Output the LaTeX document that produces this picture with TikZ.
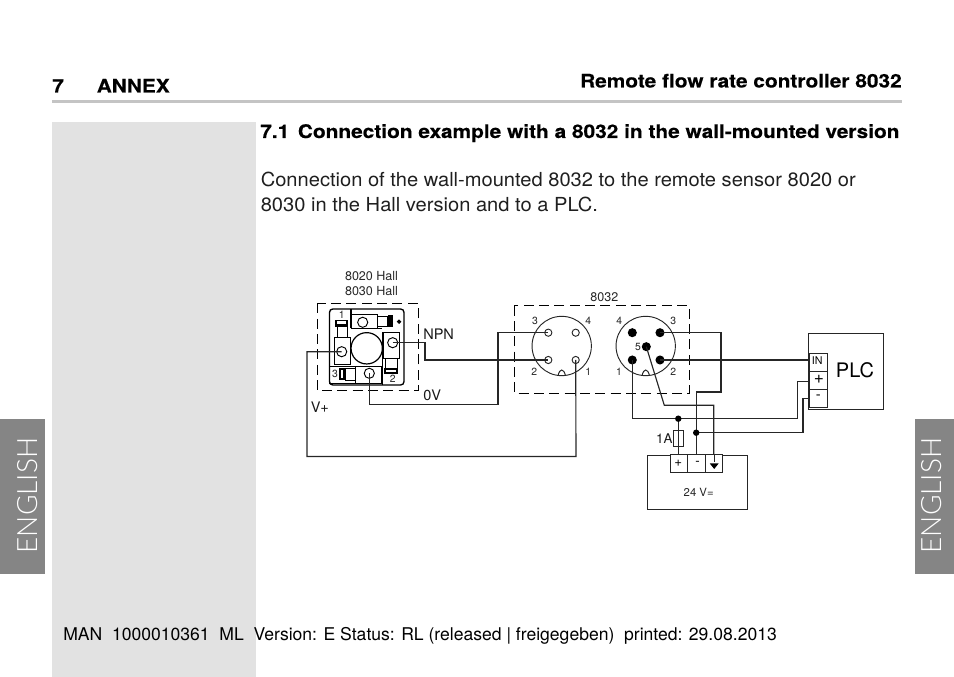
\documentclass[tikz,border=0pt]{standalone}
\usepackage{fontspec}
\setmainfont{TeX Gyre Heros}
\newfontfamily\headfont[FakeStretch=1.117,FakeBold=0.25]{TeX Gyre Heros Bold}
\newfontfamily\bodyfont[FakeStretch=1.04]{TeX Gyre Heros}
\newfontfamily\thinfont[UprightFont=* Light]{Lato}
\tikzset{
  wire/.style={line width=0.85pt,draw=black!85,line join=miter},
  thinbox/.style={line width=0.75pt,draw=black!85},
  dashbox/.style={line width=0.75pt,draw=black,dash pattern=on 7.5pt off 4pt},
  openpin/.style={circle,draw=black!85,line width=0.7pt,minimum size=5.4pt,inner sep=0pt},
  fullpin/.style={circle,fill=black,minimum size=6.8pt,inner sep=0pt},
  sensorpin/.style={circle,draw=black,line width=0.7pt,minimum size=7.6pt,inner sep=0pt},
  junction/.style={circle,fill=black,minimum size=4.8pt,inner sep=0pt},
  pinlabel/.style={inner sep=0pt,font=\fontsize{7.8pt}{8pt}\selectfont,text=black!85},
  diaglabel/.style={inner sep=0pt,font=\fontsize{10.9pt}{12pt}\selectfont,text=black!90},
  smalllabel/.style={inner sep=0pt,font=\fontsize{9.4pt}{10pt}\selectfont,text=black!85},
  bodytext/.style={inner sep=0pt,anchor=base west,text=black!88,font=\bodyfont\fontsize{14.5pt}{16pt}\selectfont},
  headtext/.style={inner sep=0pt,anchor=base west,font=\headfont\fontsize{14pt}{16pt}\selectfont},
  tabbox/.style={fill=tabgray,minimum width=33.75pt,minimum height=116.25pt,inner sep=0pt},
  tabtext/.style={rotate=90,inner sep=0pt,text=white,font=\thinfont\fontsize{21pt}{23pt}\selectfont},
  termbox/.style={thinbox,fill=white,inner sep=0pt}
}
\definecolor{tabgray}{HTML}{858585}
\definecolor{panelgray}{HTML}{E2E2E2}
\definecolor{rulegray}{HTML}{C4C4C4}
\begin{document}
\begin{tikzpicture}[x=0.75pt,y=-0.75pt]
\useasboundingbox (0,0) rectangle (954,677);
% page furniture
\fill[panelgray] (52,122) rectangle (256,677);
\fill[rulegray] (52,100) rectangle (902,103.5);
\node[tabbox] (tabL) at (22.5,496.5) {};
\node[tabbox,minimum width=29.25pt] (tabR) at (934.5,496.5) {};
\node[tabtext] (engL) at (28,495.5) {ENGLISH};
\node[tabtext] (engR) at (932,495.5) {ENGLISH};
\node[headtext] (chapno) at (52,92.5) {7};
\node[headtext] (chap) at (96.5,92.5) {ANNEX};
\node[headtext,anchor=base east] (runhead) at (902,87.5) {Remote flow rate controller 8032};
\node[headtext] (sec) at (260,138) {7.1\hspace{6.5pt}Connection example with a 8032 in the wall-mounted version};
\node[bodytext] (body1) at (260.5,187) {Connection of the wall-mounted 8032 to the remote sensor 8020 or};
\node[bodytext] (body2) at (260.5,212) {8030 in the Hall version and to a PLC.};
\node[inner sep=0pt,anchor=base west,font=\fontsize{13.17pt}{15pt}\selectfont] (foot) at (63,640) {MAN\ \ 1000010361\ \ ML\ \ Version: E Status: RL (released | freigegeben)\ \ printed: 29.08.2013};
% sensor outlines
\node[smalllabel] (h1) at (371.5,275.7) {8020 Hall};
\node[smalllabel] (h2) at (371.5,290.7) {8030 Hall};
\draw[dashbox] (317.5,303.5) rectangle (418,391);
\draw[line width=1pt,rounded corners=2.5pt] (329.5,309) rectangle (404,385);
% sensor internals (origin 325,305, third-pixel units)
\begin{scope}[shift={(325,305)},x=0.25pt,y=-0.25pt,line width=0.7pt]
\fill (74,12) rectangle (81,70);
\draw (77,70) -- (172,70);
\draw (80,28) rectangle (158,70);
\draw (158,33) rectangle (188,65);
\fill (188,30) rectangle (205,65);
\fill (222,50) +(-7,0) -- +(0,-7) -- +(7,0) -- +(0,7) -- cycle;
\draw (28,98) rectangle (75,178);
\draw (36,65) rectangle (68,98);
\fill (30,45) rectangle (70,65);
\fill[white] (36,48) rectangle (64,56);
\draw (176,82) rectangle (222,160);
\draw (182,160) rectangle (216,190);
\fill (178,190) rectangle (220,208);
\fill[white] (184,194) rectangle (212,200);
\draw (12,183) -- (172,183);
\draw (172,82) -- (172,240);
\draw (90,183) rectangle (170,235);
\draw (60,190) rectangle (90,225);
\fill (42,190) rectangle (60,225);
\fill[white] (47,195) rectangle (53,220);
\draw (12,235) -- (90,235);
\end{scope}
\node[circle,draw=black,line width=0.9pt,minimum size=23.5pt,inner sep=0pt] (hub) at (366.7,348.3) {};
\node[sensorpin] (sV) at (341.7,351.7) {};
\node[sensorpin] (sN) at (392.7,342.7) {};
\node[sensorpin] (s0) at (369.3,373.3) {};
\node[sensorpin] (sT) at (362.7,322.3) {};
\node[pinlabel] (sl1) at (341.7,314.5) {1};
\node[pinlabel] (sl2) at (392.7,379) {2};
\node[pinlabel] (sl3) at (335,374) {3};
\node[diaglabel,anchor=west] (npn) at (423,334.5) {NPN};
\node[diaglabel,anchor=west] (zerov) at (423,395) {0V};
\node[diaglabel,anchor=west] (vplus) at (310.5,407.5) {V+};
% 8032
\node[smalllabel] (t8032) at (604.3,297) {8032};
\draw[dashbox] (514.3,305.7) rectangle (689.3,393.3);
\node[circle,draw=black!85,line width=0.7pt,minimum size=44.5pt,inner sep=0pt] (conL) at (561.7,346) {};
\node[circle,draw=black!85,line width=0.7pt,minimum size=44.5pt,inner sep=0pt] (conR) at (645.7,346) {};
\draw[thinbox] (558,375.7) .. controls (559,372) and (560,370) .. (561.7,370) .. controls (563.5,370) and (564.5,372) .. (565.5,375.7);
\draw[thinbox] (642,375.7) .. controls (643,372) and (644,370) .. (645.7,370) .. controls (647.5,370) and (648.5,372) .. (649.5,375.7);
\node[openpin] (l3) at (548.3,332.7) {};
\node[openpin] (l4) at (575.7,332.7) {};
\node[openpin] (l2) at (548.3,360) {};
\node[openpin] (l1) at (575.7,360) {};
\node[fullpin] (r4) at (632.3,332.7) {};
\node[fullpin] (r3) at (660,332.7) {};
\node[fullpin] (r5) at (646.3,346.7) {};
\node[fullpin] (r1) at (632.3,360) {};
\node[fullpin] (r2) at (660,360) {};
\node[pinlabel] at (535,320.5) (a3) {3};
\node[pinlabel] at (588.3,320.5) (a4) {4};
\node[pinlabel] at (534.3,372) (a2) {2};
\node[pinlabel] at (588.3,372) (a1) {1};
\node[pinlabel] at (619.3,320.5) (b4) {4};
\node[pinlabel] at (673.3,320.5) (b3) {3};
\node[pinlabel] at (638,346.5) (b5) {5};
\node[pinlabel] at (619,372) (b1) {1};
\node[pinlabel] at (673.3,372) (b2) {2};
% PLC
\node[thinbox,draw,inner sep=0pt,minimum width=55.9pt,minimum height=57pt] (plc) at (846.2,371.3) {};
\node[termbox,draw,minimum width=13.5pt,minimum height=13.5pt] (tIN) at (818.3,362.3) {};
\node[termbox,draw,minimum width=13.5pt,minimum height=13.5pt] (tP) at (818.3,380.3) {};
\node[termbox,draw,minimum width=13.5pt,minimum height=13.5pt] (tM) at (818.3,398.3) {};
\node[inner sep=0pt,font=\fontsize{8pt}{8pt}\selectfont] at (817.3,361) (tINt) {IN};
\node[inner sep=0pt,font=\fontsize{13pt}{13pt}\selectfont] at (819,379) (tPt) {+};
\node[inner sep=0pt,font=\fontsize{11pt}{11pt}\selectfont] at (818.3,397) (tMt) {-};
\node[inner sep=0pt,font=\fontsize{15pt}{16pt}\selectfont] at (855,370) (plct) {PLC};
% power supply
\node[thinbox,draw,inner sep=0pt,minimum width=74.8pt,minimum height=40.7pt] (psu) at (697.85,482.15) {};
\node[termbox,draw,minimum width=13.25pt,minimum height=12.98pt] (pP) at (678.85,463.65) {};
\node[termbox,draw,minimum width=13.25pt,minimum height=12.98pt] (pM) at (696.5,463.65) {};
\node[termbox,draw,minimum width=13.25pt,minimum height=12.98pt] (pG) at (714.15,463.65) {};
\node[inner sep=0pt,font=\fontsize{10pt}{10pt}\selectfont] at (678.3,463) (pPt) {+};
\node[inner sep=0pt,font=\fontsize{10pt}{10pt}\selectfont] at (697.7,463) (pMt) {-};
\node[inner sep=0pt,font=\fontsize{8.5pt}{9pt}\selectfont,text=black!85] at (698.7,492.3) (v24) {24 V=};
\node[thinbox,draw,fill=white,inner sep=0pt,minimum width=6.8pt,minimum height=11.8pt] (fuse) at (678.5,438.8) {};
\node[diaglabel,font=\fontsize{10pt}{11pt}\selectfont] at (664.3,438.5) (fl) {1A};
% junctions
\coordinate (jA) at (678.3,418.7);
\coordinate (jB) at (696.2,432.7);
% wires
\draw[wire] (sV.center) -- (307,351.7) -- (307,456.5) -- (576,456.5) -- (l1.center);
\draw[wire] (sN.center) -- (425,342.7) -- (425,360) -- (l2.center);
\draw[wire] (s0.center) -- (369.3,404.3) -- (498,404.3) -- (498,332.7) -- (l3.center);
\draw[wire] (r3.center) -- (721,332.7) -- (721,392) -- (696.2,392) -- (696.2,455);
\draw[wire] (r2.center) -- (tIN.west |- r2.center);
\draw[wire] (r5.center) -- (664.3,405.3) -- (713.7,405.3) -- (713.7,455);
\draw[wire] (r1.center) -- (632.3,418.7) -- (797.7,418.7) -- (797.7,381.3) -- (tP.west |- 0,381.3);
\draw[wire] (jB) -- (803,432.7) -- (803,398.3) -- (tM.west |- 0,398.3);
\draw[wire] (jA) -- (678.3,455);
\node[junction] (dotA) at (jA) {};
\node[junction] (dotB) at (jB) {};
\draw[wire] (pG.north) -- +(0,8);
\fill (709.8,463.5) -- (718.6,463.5) -- (714.2,469) -- cycle;
\end{tikzpicture}
\end{document}
